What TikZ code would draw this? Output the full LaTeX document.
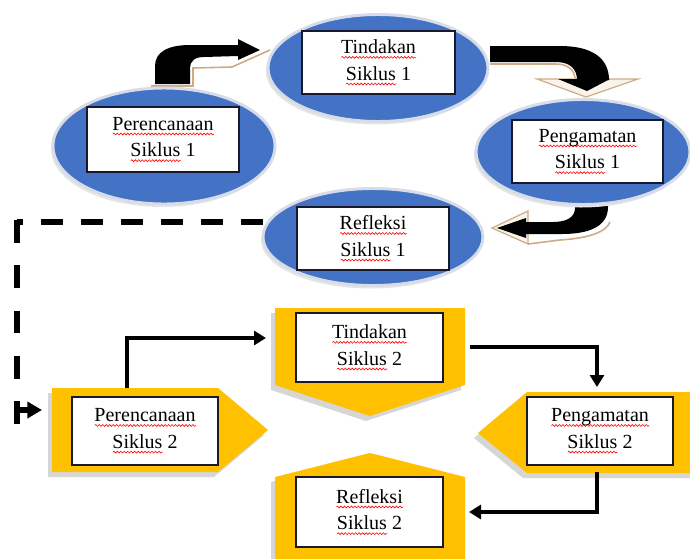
\documentclass[tikz,border=0pt]{standalone}
\usepackage{fontspec}
\setmainfont{Liberation Serif}
\usetikzlibrary{arrows.meta,shapes.geometric,calc,decorations.pathmorphing}
\definecolor{eblue}{RGB}{68,114,196}
\definecolor{ayellow}{RGB}{255,192,0}
\definecolor{tanc}{RGB}{205,172,135}
\definecolor{palec}{RGB}{250,243,233}
\definecolor{shadowc}{RGB}{214,214,214}
\definecolor{ering}{RGB}{214,221,232}
\definecolor{boxline}{RGB}{25,25,45}
\newsavebox{\swbox}
\newcommand\sw[1]{\sbox{\swbox}{#1}\rlap{\tikz[x=1pt,y=1pt,baseline=0pt]{\draw[red,line width=0.45pt,
  decorate,decoration={snake,amplitude=0.7pt,segment length=2.6pt}] (0,-2.8) -- (\the\wd\swbox,-2.8);}}\usebox{\swbox}}
\tikzset{
 ell/.style={ellipse, fill=eblue, draw=ering, line width=2.2pt, inner sep=0pt},
 ellshadow/.style={ellipse, fill=black!10, draw=none, inner sep=0pt},
 lbl/.style={rectangle, fill=white, draw=boxline, line width=0.9pt, align=center,
   font=\fontsize{15}{20}\selectfont, inner sep=0pt},
 pent/.style={fill=ayellow},
 pshadow/.style={fill=shadowc},
 bigarrow/.style={fill=black},
 tanline/.style={draw=tanc, line width=1.2pt},
 wing/.style={fill=palec, draw=tanc, line width=0.9pt},
 conn/.style={draw=black, line width=3pt, -{Triangle[length=9pt,width=10.5pt]}},
 dashline/.style={draw=black, line width=3.8pt, dash pattern=on 16.5pt off 13.5pt},
}
\begin{document}
\begin{tikzpicture}[x=0.75pt,y=-0.75pt]
\useasboundingbox (0,0) rectangle (690,558);
\fill[white] (0,0) rectangle (690,558);

% ---------- big curved arrows (cycle 1) ----------
% A1: Perencanaan 1 -> Tindakan 1
\draw[tanline] (151,86) -- (193,86) -- (193,68) -- (232,67) -- (270,50);
\fill[bigarrow] (155,84) -- (155,66) .. controls (155,52) and (168,45) .. (190,45)
  -- (238,45) -- (238,39) -- (260,50) -- (238,60) -- (238,56) -- (204,57)
  .. controls (195,57) and (190,61) .. (190,68) -- (190,84) -- cycle;
% A2: Tindakan 1 -> Pengamatan 1
\draw[wing] (537,79) -- (638,79) -- (586,97) -- cycle;
\draw[tanline] (490,64) -- (556,64) .. controls (568,64) and (574,70) .. (575,78);
\fill[bigarrow] (490,46) -- (560,46) .. controls (592,46) and (609,58) .. (609,80)
  -- (577,80) .. controls (577,69) and (570,62) .. (556,62) -- (490,62) -- cycle;
\fill[bigarrow] (558,79) -- (610,79) -- (587,91) -- cycle;
% A3: Pengamatan 1 -> Refleksi 1
\draw[wing] (528,211) -- (492,228) -- (528,244) -- cycle;
\draw[tanline] (528,244) -- (560,240) .. controls (590,238) and (606,232) .. (610,222);
\fill[bigarrow] (575,196) -- (608,196) -- (608,207) .. controls (608,226) and (590,234) .. (562,234)
  -- (526,234) -- (526,238) -- (497,228) -- (526,218) -- (526,222) -- (553,222)
  .. controls (567,222) and (575,217) .. (575,208) -- cycle;

% ---------- dashed return line ----------
\coordinate (dstart) at (263,222);
\coordinate (dcorner) at (17,222);
\coordinate (dend) at (17,428);
\coordinate (dturn) at (17,410);
\coordinate (p2in) at (42,410);
\draw[dashline] (dstart) -- (dcorner);
\draw[dashline, dash pattern=on 17pt off 17pt] (17,220) -- (dend);
\draw[line width=3.8pt, -{Triangle[length=11pt,width=12pt]}] (dturn) -- (p2in);

% ---------- ellipses (cycle 1) ----------
\node[ellshadow, minimum width=166.5pt, minimum height=87pt] (s1) at (162,149) {};
\node[ellshadow, minimum width=165pt, minimum height=80.25pt] (s2) at (376,71) {};
\node[ellshadow, minimum width=160.5pt, minimum height=78.75pt] (s3) at (581,155) {};
\node[ellshadow, minimum width=165pt, minimum height=72.75pt] (s4) at (371,240) {};
\node[ell, minimum width=166.5pt, minimum height=87pt] (e1) at (164,146) {};
\node[ell, minimum width=165pt, minimum height=80.25pt] (e2) at (378,68) {};
\node[ell, minimum width=160.5pt, minimum height=78.75pt] (e3) at (583,152) {};
\node[ell, minimum width=165pt, minimum height=72.75pt] (e4) at (373,237) {};

\node[lbl, minimum width=114pt, minimum height=48.75pt] (b1) at (163,139.5)
  {\sw{Perencanaan}\\\sw{Siklus} 1};
\node[lbl, minimum width=114.75pt, minimum height=47.25pt] (b2) at (378.5,62.5)
  {\sw{Tindakan}\\\sw{Siklus} 1};
\node[lbl, minimum width=113.25pt, minimum height=47.25pt] (b3) at (587.5,151.5)
  {\sw{Pengamatan}\\\sw{Siklus} 1};
\node[lbl, minimum width=114pt, minimum height=47.25pt] (b4) at (373,238.5)
  {\sw{Refleksi}\\\sw{Siklus} 1};

% ---------- pentagons (cycle 2) ----------
\begin{scope}[shift={(-4,5)}]
\fill[pshadow] (52,388) -- (218,388) -- (268,430) -- (218,472) -- (52,472) -- cycle;
\fill[pshadow] (275,308) -- (465,308) -- (465,385) -- (370,416) -- (275,385) -- cycle;
\fill[pshadow] (275,477) -- (370,453) -- (465,477) -- (465,565) -- (275,565) -- cycle;
\fill[pshadow] (478,433) -- (527,392) -- (695,392) -- (695,473) -- (527,473) -- cycle;
\end{scope}
\fill[pent] (52,388) -- (218,388) -- (268,430) -- (218,472) -- (52,472) -- cycle;
\fill[pent] (275,308) -- (465,308) -- (465,385) -- (370,416) -- (275,385) -- cycle;
\fill[pent] (275,477) -- (370,453) -- (465,477) -- (465,565) -- (275,565) -- cycle;
\fill[pent] (478,433) -- (527,392) -- (695,392) -- (695,473) -- (527,473) -- cycle;

\node[lbl, minimum width=109.5pt, minimum height=51pt] (c1) at (145,431)
  {\sw{Perencanaan}\\\sw{Siklus} 2};
\node[lbl, minimum width=110.25pt, minimum height=51.75pt] (c2) at (369.5,347.5)
  {\sw{Tindakan}\\\sw{Siklus} 2};
\node[lbl, minimum width=110.25pt, minimum height=52.5pt] (c3) at (369.5,512)
  {\sw{Refleksi}\\\sw{Siklus} 2};
\node[lbl, minimum width=109.5pt, minimum height=51pt] (c4) at (600,431)
  {\sw{Pengamatan}\\\sw{Siklus} 2};

% ---------- connectors (cycle 2) ----------
\coordinate (p2top) at (127,388);
\coordinate (t2in) at (266,338);
\coordinate (t2out) at (470,347);
\coordinate (pe2in) at (597,387);
\coordinate (pe2out) at (597,472);
\coordinate (r2in) at (469,512);
\draw[conn] (p2top) |- (t2in);
\draw[conn] (t2out) -| (pe2in);
\draw[conn] (pe2out) |- (r2in);
\end{tikzpicture}
\end{document}
